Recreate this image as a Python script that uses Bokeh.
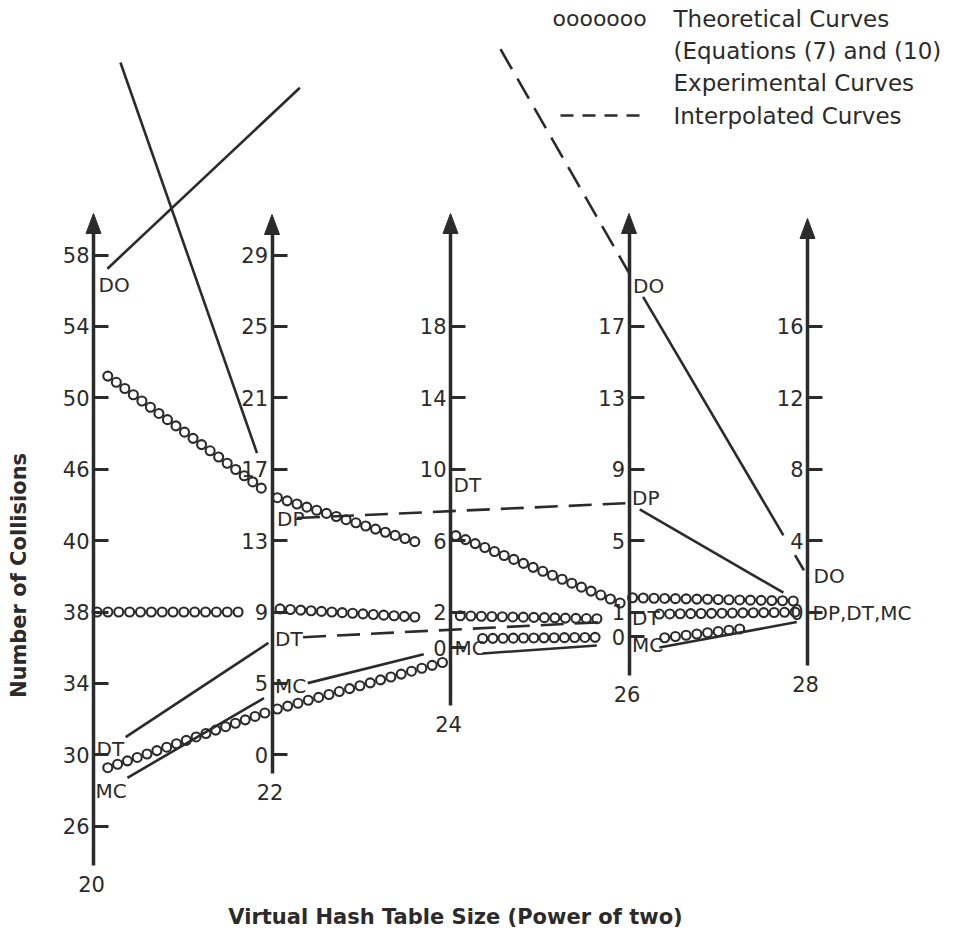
import math
import numpy as np
from bokeh.plotting import figure
from bokeh.models import Range1d, LinearAxis, FixedTicker, Label
from bokeh.core.properties import value
from bokeh.embed import file_html
from bokeh.resources import INLINE

# ---------------- data ----------------
axis_powers = [20, 22, 24, 26, 28]
axis_names = ["20", "22", "24", "26", "28"]

# tick labels of each vertical axis (each axis has its own scale)
ticks_20 = [26, 30, 34, 38, 40, 46, 50, 54, 58]
ticks_22 = [0, 5, 9, 13, 17, 21, 25, 29]
ticks_24 = [0, 2, 6, 10, 14, 18]
ticks_26 = [0, 1, 5, 9, 13, 17]
ticks_28 = [0, 4, 8, 12, 16]
# shared grid row of every tick (the rows are equally spaced on the page)
rows_20 = [0, 1, 2, 3, 4, 5, 6, 7, 8]
rows_22 = [1, 2, 3, 4, 5, 6, 7, 8]
rows_24 = [2.5, 3, 4, 5, 6, 7]
rows_26 = [2.65, 3, 4, 5, 6, 7]
rows_28 = [3, 4, 5, 6, 7]

# theoretical curves (Equations (7) and (10)): value on the left / right axis of each span
theo_curve = ["upper"] * 4 + ["middle"] * 4 + ["lower"] * 4
theo_from = [20, 22, 24, 26] * 3
theo_to = [22, 24, 26, 28] * 3
theo_v_from = [51.8, 15.5, 6.4, 1.8, 38.0, 9.2, 1.8, 0.9, 29.0, 3.1, 0.5, -0.2]
theo_v_to = [15.5, 5.3, 1.3, 0.6, 9.0, 1.6, 0.7, 0.0, 3.1, -0.7, 0.0, -0.5]

# experimental (solid) and interpolated (dashed) curves
exp_curve = ["DO", "DO", "DO", "DO", "DP", "DP", "DT", "DT", "MC", "MC", "MC", "MC"]
exp_kind = ["exp", "exp", "interp", "exp", "interp", "exp", "exp", "interp", "exp", "exp", "exp", "exp"]
exp_from = [20, 20, 24, 26, 22, 26, 20, 22, 20, 22, 24, 26]
exp_to = [22, 22, 26, 28, 26, 28, 22, 26, 22, 24, 26, 28]
exp_v_from = [56.5, 73.1, 38.4, 20.0, 14.2, 7.1, 29.8, 7.5, 27.6, 4.4, -0.45, -0.65]
exp_v_to = [36.9, 15.5, 20.0, 2.0, 7.1, 0.3, 7.4, 0.65, 4.3, 0.0, -0.25, -0.45]

# point labels: text, axis, value on that axis where the label sits
pt_text = ["DO", "DT", "MC", "DP", "DT", "MC", "DT", "MC", "DO", "DP", "DT", "MC", "DO", "DP,DT,MC"]
pt_axis = [20, 20, 20, 22, 22, 22, 24, 24, 26, 26, 26, 26, 28, 28]
pt_value = [56.3, 30.3, 28.0, 14.2, 7.5, 4.85, 9.1, 0.0, 19.25, 7.36, 0.77, -0.34, 2.0, -0.05]

# ---------------- style / layout ----------------
INK = "#2b2b2b"
FONT = "DejaVu Sans"
theo_trim = [(0.08, 0.94), (0.03, 0.80), (0.03, 0.95), (0.02, 0.92),
             (0.02, 0.81), (0.045, 0.80), (0.055, 0.82), (0.17, 0.93),
             (0.08, 0.96), (0.03, 0.955), (0.18, 0.81), (0.2, 0.62)]
exp_trim = [[(0.078, 1.156)], [(0.151, 0.916)], [(0.28, 1.0)], [(0.079, 0.865), (0.93, 0.98)],
            [(0.07, 0.99)], [(0.06, 0.865)], [(0.18, 0.98)], [(0.087, 0.92)],
            [(0.19, 0.955)], [(0.2, 0.85)], [(0.18, 0.82)], [(0.17, 0.94)]]
pt_dx = [5, 3, 2, 5, 3, 3, 3, 4, 4, 3, 3, 3, 6, 5]
axis_bottom_px = [865, 773, 705, 675, 665]
axis_tip_px = [213, 214, 213, 213, 218]

TICKS = {20: ticks_20, 22: ticks_22, 24: ticks_24, 26: ticks_26, 28: ticks_28}
ROWS = {20: rows_20, 22: rows_22, 24: rows_24, 26: rows_26, 28: rows_28}


def to_row(axis, v):
    vals = np.array(TICKS[axis], float)
    rows = np.array(ROWS[axis], float)
    if v < vals[0]:
        s = (rows[1] - rows[0]) / (vals[1] - vals[0])
        return rows[0] + (v - vals[0]) * s
    if v > vals[-1]:
        s = (rows[-1] - rows[-2]) / (vals[-1] - vals[-2])
        return rows[-1] + (v - vals[-1]) * s
    return float(np.interp(v, vals, rows))


W, H = 968, 933
X0_PX, X_UNIT = 93.0, 89.25
Y0_PX, Y_UNIT = 825.7, 71.4
x_lo = 20 - X0_PX / X_UNIT
x_hi = x_lo + W / X_UNIT
y_hi = Y0_PX / Y_UNIT
y_lo = y_hi - H / Y_UNIT


def px_x(px):
    return x_lo + px / X_UNIT


def px_y(py):
    return y_hi - py / Y_UNIT


p = figure(width=W, height=H, x_range=Range1d(x_lo, x_hi), y_range=Range1d(y_lo, y_hi),
           x_axis_type=None, y_axis_type=None, output_backend="svg", toolbar_location=None,
           min_border=0, outline_line_color=None,
           background_fill_color="white", border_fill_color="white")

# ---- vertical axes ----
for P, bpx, tpx in zip(axis_powers, axis_bottom_px, axis_tip_px):
    rows = ROWS[P]
    vals = TICKS[P]
    ax = LinearAxis(fixed_location=P, bounds=(px_y(bpx), px_y(tpx + 12)),
                    ticker=FixedTicker(ticks=rows, minor_ticks=[]),
                    major_label_overrides={r: str(v) for r, v in zip(rows, vals)},
                    axis_line_color=INK, axis_line_width=3.5,
                    major_tick_line_color=INK, major_tick_line_width=3,
                    major_tick_in=15, major_tick_out=0,
                    minor_tick_line_color=None,
                    major_label_standoff=4,
                    major_label_text_font=FONT, major_label_text_font_size="21px",
                    major_label_text_color=INK)
    p.add_layout(ax, "left")

# arrow heads
ah_xs, ah_ys = [], []
for P, tpx in zip(axis_powers, axis_tip_px):
    tip = px_y(tpx)
    base = px_y(tpx + 20)
    hw = 7.5 / X_UNIT
    ah_xs.append([P, P - hw, P + hw])
    ah_ys.append([tip, base, base])
p.patches(ah_xs, ah_ys, fill_color=INK, line_color=INK, line_width=1)

# axis power numbers below each axis
p.text(x=axis_powers, y=[px_y(b) for b in axis_bottom_px], text=axis_names,
       x_offset=-2, y_offset=18, text_align="center", text_baseline="middle",
       text_font=value(FONT), text_font_size="21px", text_color=INK)

# ---- theoretical curves (rows of small circles) ----
dx, dy = [], []
for a, b, va, vb, (t0, t1) in zip(theo_from, theo_to, theo_v_from, theo_v_to, theo_trim):
    ra, rb = to_row(a, va), to_row(b, vb)
    L = math.hypot((b - a) * (t1 - t0) * X_UNIT, (rb - ra) * (t1 - t0) * Y_UNIT)
    n = max(2, int(round(L / 10.5)) + 1)
    for t in np.linspace(t0, t1, n):
        dx.append(a + t * (b - a))
        dy.append(ra + t * (rb - ra))
p.scatter(dx, dy, marker="circle", size=9, fill_color=None, line_color=INK, line_width=2.1)

# ---- experimental / interpolated curves ----
solid_x, solid_y, dash_x, dash_y = [], [], [], []
for a, b, va, vb, kind, trims in zip(exp_from, exp_to, exp_v_from, exp_v_to, exp_kind, exp_trim):
    ra, rb = to_row(a, va), to_row(b, vb)
    for t0, t1 in trims:
        xs = [a + t0 * (b - a), a + t1 * (b - a)]
        ys = [ra + t0 * (rb - ra), ra + t1 * (rb - ra)]
        if kind == "exp":
            solid_x.append(xs); solid_y.append(ys)
        else:
            dash_x.append(xs); dash_y.append(ys)
p.multi_line(solid_x, solid_y, line_color=INK, line_width=2.6)
p.multi_line(dash_x, dash_y, line_color=INK, line_width=2.6, line_dash="23 11")

# ---- point labels ----
p.text(x=pt_axis, y=[to_row(a, v) for a, v in zip(pt_axis, pt_value)], text=pt_text,
       x_offset=pt_dx, text_align="left", text_baseline="middle",
       text_font=value(FONT), text_font_size="20px", text_color=INK)

# ---- legend ----
leg_lines = ["Theoretical Curves", "(Equations (7) and (10)", "Experimental Curves", "Interpolated Curves"]
leg_y_px = [18, 50, 82, 115]
for txt, ypx in zip(leg_lines, leg_y_px):
    p.add_layout(Label(x=px_x(673), y=px_y(ypx), text=txt, text_align="left", text_baseline="middle",
                       text_font=FONT, text_font_size="23px", text_color=INK))
p.add_layout(Label(x=px_x(552), y=px_y(18), text="ooooooo", text_align="left", text_baseline="middle",
                   text_font=FONT, text_font_size="22px", text_color=INK))
p.line([px_x(560), px_x(641)], [px_y(115), px_y(115)], line_color=INK, line_width=2.6, line_dash="13 9")

# ---- titles ----
p.add_layout(Label(x=px_x(455), y=px_y(916), text="Virtual Hash Table Size (Power of two)",
                   text_align="center", text_baseline="middle", text_font=FONT,
                   text_font_size="21px", text_font_style="bold", text_color=INK))
p.add_layout(Label(x=px_x(18), y=px_y(575), text="Number of Collisions", angle=math.pi / 2,
                   text_align="center", text_baseline="middle", text_font=FONT,
                   text_font_size="21px", text_font_style="bold", text_color=INK))

open("out.html", "w").write(file_html(p, INLINE))
